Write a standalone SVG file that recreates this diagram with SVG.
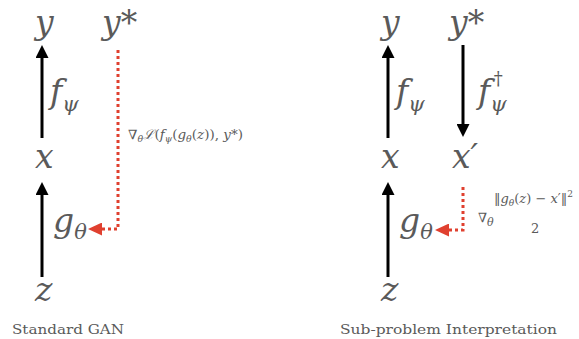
<svg xmlns="http://www.w3.org/2000/svg" width="579" height="339" viewBox="0 0 579 339">
<style>
.m{font-family:"DejaVu Serif",serif;font-style:italic;fill:#5a5a5a;font-size:33px}
.sub{font-size:21px}
.f{font-family:"DejaVu Serif",serif;fill:#5a5a5a;font-size:13px}
.cap{font-family:"DejaVu Serif",serif;fill:#5a5a5a;font-size:13px}
.blk{stroke:#000;stroke-width:3;fill:none}
.red{stroke:#e0402f;stroke-width:3;stroke-dasharray:3 3;fill:none}
</style>
<defs>
<marker id="ab" viewBox="0 0 13 13" markerWidth="13" markerHeight="13" markerUnits="userSpaceOnUse" refX="0" refY="6.5" orient="auto"><path d="M0,0 L13,6.5 L0,13 z" fill="#000"/></marker>
<marker id="ar" viewBox="0 0 14 13" markerWidth="14" markerHeight="13" markerUnits="userSpaceOnUse" refX="0" refY="6.5" orient="auto"><path d="M0,0 L14,6.5 L0,13 z" fill="#e0402f"/></marker>
</defs>
<g id="connectors">
<line class="blk" x1="42" y1="138" x2="42" y2="58" marker-end="url(#ab)"/>
<line class="blk" x1="42" y1="277" x2="42" y2="195" marker-end="url(#ab)"/>
<polyline class="red" points="118,50 118,229 102,229" marker-end="url(#ar)"/>
<line class="blk" x1="388" y1="138" x2="388" y2="58" marker-end="url(#ab)"/>
<line class="blk" x1="388" y1="277" x2="388" y2="195" marker-end="url(#ab)"/>
<line class="blk" x1="463" y1="45" x2="463" y2="124" marker-end="url(#ab)"/>
<polyline class="red" points="463,187 463,230 449,230" marker-end="url(#ar)"/>
</g>
<g id="left-y"><text class="m" x="35" y="34">y</text></g>
<g id="left-ystar"><text class="m" x="102" y="34">y*</text></g>
<g id="left-f"><text class="m" x="50" y="103">f<tspan class="sub" dy="8">ψ</tspan></text></g>
<g id="left-x"><text class="m" x="35" y="168">x</text></g>
<g id="left-g"><text class="m" x="53" y="232">g<tspan class="sub" dy="7">θ</tspan></text></g>
<g id="left-z"><text class="m" x="35" y="301">z</text></g>
<g id="left-grad"><text class="f" x="128" y="139" textLength="115" lengthAdjust="spacingAndGlyphs">∇<tspan font-style="italic" font-size="9" dy="3">θ</tspan><tspan dy="-3" font-style="italic">ℒ</tspan>(<tspan font-style="italic">f</tspan><tspan font-style="italic" font-size="9" dy="3">ψ</tspan><tspan dy="-3">(</tspan><tspan font-style="italic">g</tspan><tspan font-style="italic" font-size="9" dy="3">θ</tspan><tspan dy="-3">(</tspan><tspan font-style="italic">z</tspan>)), <tspan font-style="italic">y</tspan>*)</text></g>
<g id="left-caption"><text class="cap" x="12" y="334" textLength="112" lengthAdjust="spacingAndGlyphs">Standard GAN</text></g>
<g id="right-y"><text class="m" x="381" y="34">y</text></g>
<g id="right-ystar"><text class="m" x="449" y="34">y*</text></g>
<g id="right-f"><text class="m" x="396" y="103">f<tspan class="sub" dy="8">ψ</tspan></text></g>
<g id="right-finv"><text class="m" x="478" y="103">f<tspan class="sub" dy="8">ψ</tspan><tspan font-size="18" font-style="normal" dx="-13" dy="-26">†</tspan></text></g>
<g id="right-x"><text class="m" x="381" y="168">x</text></g>
<g id="right-xprime"><text class="m" x="452" y="168">x′</text></g>
<g id="right-g"><text class="m" x="399" y="232">g<tspan class="sub" dy="7">θ</tspan></text></g>
<g id="right-z"><text class="m" x="381" y="301">z</text></g>
<g id="right-grad">
<text class="f" x="478" y="222" font-size="16">∇<tspan font-style="italic" font-size="11" dy="4">θ</tspan></text>
<text class="f" x="494" y="203">‖<tspan font-style="italic">g</tspan><tspan font-style="italic" font-size="9" dy="3">θ</tspan><tspan dy="-3">(</tspan><tspan font-style="italic">z</tspan>) − <tspan font-style="italic">x</tspan>′‖<tspan font-size="9" dy="-6">2</tspan></text>
<text class="f" x="531" y="233">2</text>
</g>
<g id="right-caption"><text class="cap" x="340" y="334" textLength="217" lengthAdjust="spacingAndGlyphs">Sub-problem Interpretation</text></g>
</svg>
